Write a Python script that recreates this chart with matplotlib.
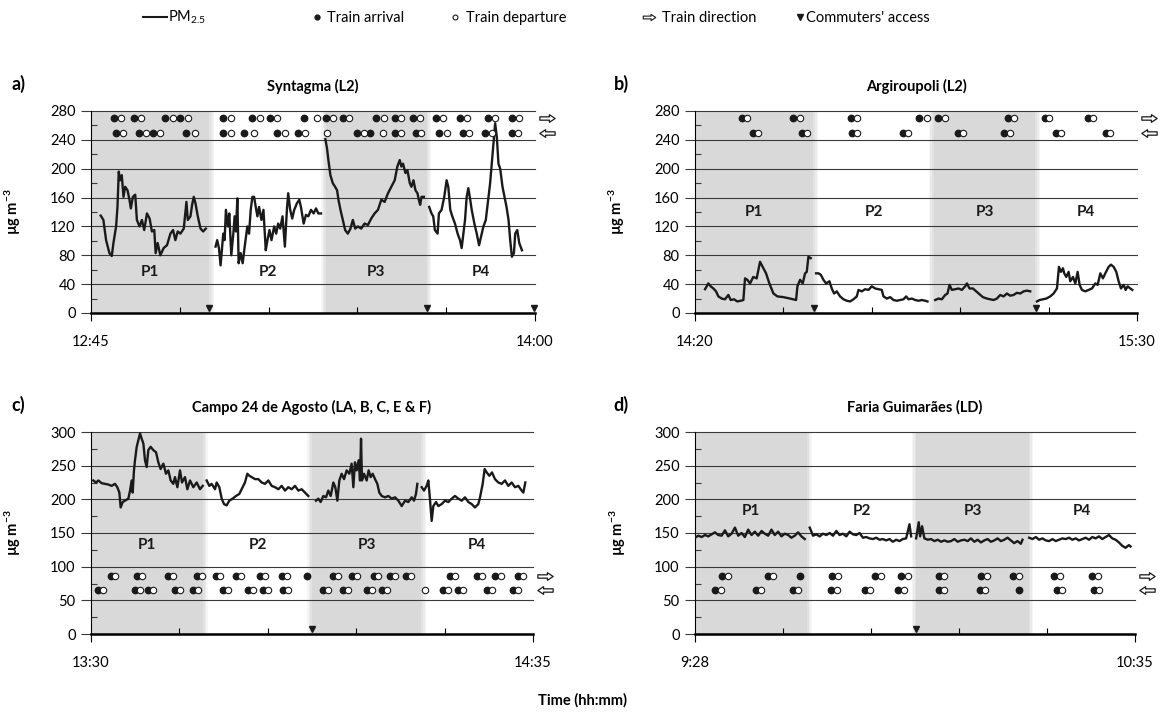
import numpy as np
import matplotlib
matplotlib.use("Agg")
import matplotlib.pyplot as plt
from matplotlib.lines import Line2D
from matplotlib.path import Path
from matplotlib.transforms import blended_transform_factory

plt.rcParams['font.family'] = ['Lato', 'DejaVu Sans']
plt.rcParams['mathtext.fontset'] = 'custom'
plt.rcParams['mathtext.rm'] = 'Lato'
plt.rcParams['mathtext.bf'] = 'Lato:bold'
plt.rcParams['mathtext.it'] = 'Lato:italic'
plt.rcParams['mathtext.sf'] = 'Lato'

NAN = np.nan

# ---------------- Panel a: Syntagma (L2) ----------------
a_t = [1.64, 2.09, 2.55, 3.11, 3.51, 3.79, 4.24, 4.47, 4.69, 4.92, 5.20, 5.49, 5.77, 6.17, 6.50,
       6.73, 7.07, 7.47, 7.75, 8.20, 8.60, 8.99, 9.45, 9.90, 10.29, 10.69, 10.92, 11.26, 11.71, 12.27,
       12.84, 13.41, 13.86, 14.25, 14.65, 15.10, 15.67, 16.12, 16.35, 16.80, 17.08, 17.36, 17.65, 18.04,
       18.50, 18.95, 19.40, NAN,
       21.04, 21.32, 21.61, 21.89, 22.34, 22.57, 22.79, 23.13, 23.36, 23.70, 24.04, 24.26, 24.49, 24.72,
       24.94, 25.28, 25.62, 25.96, 26.41, 26.70, 26.98, 27.26, 27.55, 27.83, 28.11, 28.39, 28.79, 29.13,
       29.52, 29.81, 30.15, 30.49, 30.94, 31.28, 31.62, 31.96, 32.35, 32.75, 33.09, 33.31, 33.65, 33.99,
       34.33, 34.78, 35.18, 35.46, 35.92, 36.31, 36.71, 37.16, 37.61, 38.01, 38.40, 38.86, NAN,
       39.59, 39.87, 40.10, 40.44, 40.84, 41.23, 41.57, 41.80, 42.14, 42.53, 42.93, 43.38, 43.83, 44.23,
       44.63, 45.08, 45.64, 46.21, 46.78, 47.34, 47.91, 48.47, 49.04, 49.60, 50.17, 50.73, 51.30, 51.75,
       52.15, 52.43, 52.71, 53.11, 53.45, 53.85, 54.13, 54.47, 54.81, 55.15, 55.37, 55.60, 55.83, 56.22, NAN,
       57.12, 57.52, 57.81, 58.09, 58.54, 58.77, 59.22, 59.67, 60.07, 60.35, 60.69, 61.03, 61.48, 61.93,
       62.33, 62.61, 62.90, 63.18, 63.46, 63.74, 64.02, 64.31, 64.76, 65.16, 65.55, 65.89, 66.29, 66.69,
       67.02, 67.42, 67.70, 67.98, 68.27, 68.55, 68.83, 69.12, 69.51, 69.85, 70.19, 70.53, 70.81, 71.10,
       71.44, 71.66, 72.00, 72.34, 72.79]
a_v = [135, 129, 101, 83, 79, 97, 120, 147, 196, 184, 191, 161, 175, 170, 157,
       145, 161, 164, 129, 120, 129, 115, 138, 131, 113, 115, 83, 97, 80, 90,
       94, 110, 115, 101, 113, 110, 117, 154, 129, 134, 150, 161, 152, 134,
       117, 113, 117, NAN,
       92, 101, 90, 66, 110, 101, 143, 120, 138, 80, 110, 134, 113, 159,
       69, 83, 69, 92, 120, 110, 143, 161, 161, 147, 134, 147, 129, 143,
       87, 101, 115, 101, 120, 110, 124, 117, 134, 92, 143, 166, 143, 131,
       143, 152, 157, 147, 124, 136, 134, 143, 138, 145, 138, 138, NAN,
       241, 228, 212, 191, 180, 175, 170, 157, 143, 129, 115, 110, 117, 129,
       117, 120, 117, 124, 122, 131, 138, 143, 157, 154, 166, 175, 184, 203,
       212, 203, 207, 194, 198, 180, 175, 184, 170, 166, 157, 150, 161, 161, NAN,
       147, 138, 134, 115, 110, 138, 143, 161, 184, 175, 143, 134, 124, 110,
       101, 90, 110, 129, 161, 173, 159, 143, 124, 110, 94, 106, 120, 129,
       152, 180, 207, 235, 263, 244, 207, 200, 175, 161, 147, 129, 101, 78,
       83, 110, 115, 97, 87]
a_arr_top = [3.85, 7.18, 12.56, 15.10, 22.34, 27.26, 30.20, 36.03, 39.71, 42.53, 48.19, 51.30, 54.41,
             58.26, 62.33, 67.02, 71.10]
a_dep_top = [5.03, 8.43, 13.80, 16.35, 23.59, 28.51, 31.39, 38.18, 40.95, 43.66, 49.43, 52.43, 55.54,
             59.50, 63.46, 68.27, 72.23]
a_arr_bot = [4.24, 8.03, 10.46, 16.12, 22.34, 25.85, 31.50, 34.90, 44.97, 47.06, 51.30, 54.86, 58.82,
             62.78, 66.57, 71.10]
a_dep_bot = [5.37, 9.28, 11.71, 17.65, 23.59, 27.55, 32.75, 36.14, 39.87, 46.10, 49.32, 52.43, 55.82,
             60.07, 63.91, 67.82, 72.11]
a_periods = [0, 20, 39.7, 56.7, 75]
a_access = [19.9, 56.8, 74.9]

# ---------------- Panel b: Argiroupoli (L2) ----------------
b_t = [1.59, 2.11, 2.48, 2.91, 3.33, 3.70, 4.23, 4.75, 5.28, 5.65, 6.18, 6.71, 7.24, 7.66, 7.92, 8.29,
       8.72, 9.23, 9.77, 10.30, 10.72, 11.25, 11.78, 12.42, 13.05, 14.00, 15.06, 16.01, 16.22, 16.64,
       17.06, 17.43, 17.70, 17.96, 18.33, NAN,
       19.18, 19.55, 19.92, 20.34, 20.76, 21.29, 21.66, 22.03, 22.45, 22.98, 23.51, 24.04, 24.57, 25.09,
       25.62, 25.89, 26.41, 26.94, 27.47, 28.00, 28.53, 29.06, 29.58, 29.85, 30.38, 30.91, 31.43, 31.96,
       32.49, 33.02, 33.44, 33.81, 34.34, 34.87, 35.40, 35.92, 36.45, 36.82, NAN,
       38.04, 38.57, 39.09, 39.62, 39.99, 40.31, 40.68, 41.21, 41.74, 42.26, 42.79, 43.06, 43.48, 44.01,
       44.54, 45.06, 45.59, 46.23, 46.76, 47.28, 47.81, 48.34, 48.87, 49.40, 49.92, 50.45, 50.98, 51.51,
       52.04, 52.57, 53.09, NAN,
       54.15, 54.57, 55.10, 55.63, 56.26, 56.79, 57.32, 57.64, 57.95, 58.27, 58.48, 58.80, 59.17, 59.43,
       59.86, 60.23, 60.60, 60.91, 61.28, 61.81, 62.34, 62.87, 63.40, 63.77, 64.19, 64.61, 64.98, 65.51,
       65.88, 66.30, 66.72, 67.09, 67.46, 67.89, 68.20, 68.52, 68.94, 69.26]
b_v = [33, 41, 37, 34, 30, 23, 20, 19, 25, 18, 19, 16, 17, 18, 48, 46,
       41, 50, 48, 71, 64, 55, 41, 27, 23, 22, 20, 18, 37, 46,
       41, 55, 57, 78, 76, NAN,
       55, 55, 53, 46, 41, 44, 34, 27, 30, 23, 19, 17, 16, 19,
       23, 32, 30, 33, 32, 37, 34, 33, 32, 23, 20, 22, 18, 17,
       18, 19, 23, 19, 20, 18, 17, 18, 17, 16, NAN,
       18, 20, 19, 25, 27, 39, 32, 33, 34, 32, 37, 41, 34, 34,
       30, 26, 22, 20, 19, 18, 20, 25, 23, 27, 24, 25, 28, 27,
       30, 31, 30, NAN,
       16, 18, 19, 20, 23, 27, 34, 64, 57, 62, 55, 50, 57, 44,
       50, 41, 57, 39, 32, 30, 32, 34, 41, 39, 55, 48, 55, 64,
       67, 64, 57, 44, 34, 39, 32, 37, 34, 32]
b_arr_top = [7.40, 15.58, 24.72, 35.55, 38.56, 49.50, 55.36, 62.18]
b_dep_top = [8.29, 16.64, 25.62, 36.71, 39.62, 50.45, 56.00, 63.02]
b_arr_bot = [9.24, 16.90, 24.83, 32.91, 41.73, 48.97, 57.21, 65.14]
b_dep_bot = [10.04, 17.70, 25.62, 33.81, 42.52, 49.81, 58.00, 65.77]
b_periods = [0, 18.75, 37.8, 53.9, 70]
b_access = [18.9, 54.0]

# ---------------- Panel c: Campo 24 de Agosto ----------------
c_t = [0.34, 0.74, 1.08, 1.57, 2.06, 2.55, 3.04, 3.53, 3.87, 4.17, 4.36, 4.66, 5.00, 5.49, 5.74, 5.98,
       6.13, 6.32, 6.47, 6.72, 6.96, 7.21, 7.45, 7.70, 7.94, 8.19, 8.43, 8.77, 9.17, 9.56, 9.90, 10.24,
       10.64, 11.03, 11.37, 11.72, 12.11, 12.35, 12.70, 13.09, 13.38, 13.82, 14.17, 14.56, 15.05, 15.54,
       16.03, 16.42, NAN,
       17.01, 17.40, 17.74, 18.24, 18.48, 18.87, 19.22, 19.56, 19.95, 20.34, 20.83, 21.32, 21.81, 22.30,
       22.64, 22.99, 23.28, 23.63, 24.12, 24.61, 25.10, 25.59, 26.08, 26.57, 27.06, 27.55, 28.04, 28.53,
       29.02, 29.51, 30.00, 30.49, 30.98, 31.47, 31.96, NAN,
       33.09, 33.43, 33.77, 34.17, 34.56, 34.90, 35.25, 35.64, 35.93, 36.23, 36.52, 36.86, 37.21, 37.60,
       37.99, 38.33, 38.58, 38.82, 39.07, 39.36, 39.56, 39.71, 39.85, 40.15, 40.54, 40.83, 41.13, 41.42,
       41.77, 42.11, 42.40, 42.75, 43.24, 43.73, 44.22, 44.71, 45.20, 45.69, 46.18, 46.67, 47.16, 47.50,
       47.79, 47.99, NAN,
       48.63, 48.97, 49.36, 49.61, 49.85, 50.10, 50.34, 50.74, 51.08, 51.57, 52.06, 52.55, 53.04, 53.53,
       54.02, 54.51, 55.00, 55.49, 55.98, 56.47, 56.96, 57.21, 57.60, 57.89, 58.19, 58.58, 58.97, 59.41,
       59.90, 60.39, 60.88, 61.37, 61.86, 62.35, 62.84, 63.33, 63.58, 63.87]
c_v = [228, 225, 228, 224, 223, 222, 220, 223, 218, 210, 188, 196, 198, 201, 213, 228,
       210, 243, 258, 278, 288, 298, 290, 283, 258, 248, 273, 278, 273, 270, 255, 245,
       253, 238, 243, 228, 223, 233, 218, 243, 225, 233, 215, 228, 218, 225,
       215, 220, NAN,
       228, 220, 223, 215, 225, 218, 201, 193, 191, 198, 201, 205, 208, 218,
       225, 238, 235, 233, 230, 230, 225, 223, 228, 220, 218, 215, 220, 213,
       218, 215, 220, 213, 215, 210, 205, NAN,
       198, 201, 196, 205, 203, 213, 205, 225, 218, 198, 228, 238, 230, 243,
       238, 253, 218, 255, 243, 258, 228, 290, 228, 238, 228, 243, 233, 238,
       230, 223, 210, 205, 203, 205, 201, 203, 198, 190, 198, 196, 203, 198,
       208, 223, NAN,
       218, 213, 220, 228, 200, 168, 190, 196, 190, 193, 198, 196, 201, 205,
       201, 198, 203, 196, 193, 188, 193, 203, 223, 245, 240, 235, 240, 230,
       225, 223, 228, 220, 225, 218, 220, 213, 210, 225]
c_arr_top = [2.89, 6.72, 11.37, 15.64, 18.38, 21.32, 24.85, 28.04, 31.72, 35.64, 38.33, 41.62, 43.97,
             46.32, 52.79, 56.72, 59.41, 62.84]
c_dep_top = [3.53, 7.45, 12.11, 16.27, 18.97, 22.01, 25.59, 28.78, 36.37, 39.07, 42.26, 44.71, 47.01,
             53.53, 57.45, 60.25, 63.58]
c_arr_bot = [1.08, 6.47, 8.43, 12.35, 15.05, 19.46, 23.04, 25.34, 28.19, 34.07, 37.01, 40.54, 42.75,
             51.72, 54.02, 58.19, 62.11]
c_dep_bot = [1.72, 7.21, 9.17, 13.09, 15.78, 20.20, 23.77, 26.08, 28.92, 34.80, 37.75, 41.27, 43.48,
             49.12, 52.45, 54.76, 58.92, 62.84]
c_periods = [0, 16.5, 32.5, 48.6, 65]
c_access = [32.5]

# ---------------- Panel d: Faria Guimaraes (LD) ----------------
d_t = [0.00, 0.51, 1.01, 1.52, 2.02, 2.53, 3.04, 3.54, 4.05, 4.56, 5.06, 5.57, 6.08, 6.58, 7.09, 7.59,
       8.10, 8.61, 9.11, 9.62, 10.13, 10.63, 11.14, 11.64, 12.15, 12.66, 13.16, 13.67, 14.18, 14.68,
       15.19, 15.70, 16.20, 16.71, NAN,
       17.47, 17.97, 18.48, 18.99, 19.49, 20.00, 20.51, 21.01, 21.52, 22.02, 22.53, 23.04, 23.54, 24.05,
       24.56, 25.06, 25.57, 26.07, 26.58, 27.09, 27.59, 28.10, 28.61, 29.11, 29.62, 30.12, 30.63, 31.14,
       31.64, 32.15, 32.66, 32.91, NAN,
       33.67, 34.07, 34.28, 34.58, 34.93, 35.44, 35.95, 36.45, 36.96, 37.47, 37.97, 38.48, 38.99, 39.49,
       40.00, 40.50, 41.01, 41.52, 42.02, 42.53, 43.04, 43.54, 44.05, 44.55, 45.06, 45.57, 46.07, 46.58,
       47.09, 47.59, 48.10, 48.60, 49.11, 49.62, 49.87, NAN,
       50.88, 51.39, 51.90, 52.40, 52.91, 53.41, 53.92, 54.43, 54.93, 55.44, 55.95, 56.45, 56.96, 57.46,
       57.97, 58.48, 58.98, 59.49, 60.00, 60.50, 61.01, 61.51, 62.02, 62.53, 63.03, 63.54, 64.05, 64.55,
       65.06, 65.56, 66.07, 66.32]
d_v = [143, 146, 144, 147, 145, 148, 151, 147, 146, 154, 145, 149, 158, 146, 150, 144,
       155, 147, 152, 146, 153, 149, 146, 155, 147, 152, 145, 149, 147, 143,
       146, 151, 145, 141, NAN,
       158, 146, 148, 145, 149, 147, 150, 146, 153, 147, 149, 145, 152, 148,
       147, 150, 143, 144, 142, 141, 143, 140, 141, 139, 141, 137, 140, 138,
       141, 142, 163, 145, NAN,
       142, 166, 145, 160, 142, 140, 141, 138, 140, 137, 139, 137, 138, 141,
       137, 139, 140, 138, 142, 137, 140, 136, 139, 141, 137, 139, 142, 138,
       140, 143, 139, 135, 138, 134, 140, NAN,
       143, 141, 144, 140, 142, 139, 138, 141, 138, 140, 142, 141, 143, 140,
       142, 139, 141, 143, 140, 144, 142, 145, 141, 144, 147, 142, 140, 136,
       131, 128, 132, 130]
d_arr_top = [4.15, 11.14, 16.05, 20.91, 27.44, 31.39, 37.11, 43.55, 48.46, 54.68, 60.51]
d_dep_top = [5.06, 11.90, 21.77, 28.36, 32.41, 37.98, 44.46, 49.37, 55.55, 61.42]
d_arr_bot = [3.04, 9.27, 14.94, 20.76, 25.82, 30.89, 37.11, 43.39, 49.27, 55.19, 60.76]
d_dep_bot = [3.90, 10.03, 15.70, 21.62, 26.58, 31.75, 37.98, 44.20, 55.95, 61.52]
d_periods = [0, 17.1, 33.7, 50.8, 67]
d_access = [33.7]

titles = ["Syntagma (L2)", "Argiroupoli (L2)", "Campo 24 de Agosto (LA, B, C, E & F)",
          "Faria Guimarães (LD)"]
letters = ["a)", "b)", "c)", "d)"]
time_labels = [("12:45", "14:00"), ("14:20", "15:30"), ("13:30", "14:35"), ("9:28", "10:35")]
period_names = ["P1", "P2", "P3", "P4"]

W, H = 1164, 712
GRAY = '#d9d9d9'
INK = '#1a1a1a'

# hollow block-arrow marker shapes (right / left)
_rv = [(-1.0, -0.22), (0.25, -0.22), (0.25, -0.5), (1.0, 0.0), (0.25, 0.5), (0.25, 0.22),
       (-1.0, 0.22), (-1.0, -0.22)]
RIGHT_ARROW = Path(_rv, [Path.MOVETO] + [Path.LINETO] * 6 + [Path.CLOSEPOLY])
LEFT_ARROW = Path([(-x, y) for x, y in _rv], [Path.MOVETO] + [Path.LINETO] * 6 + [Path.CLOSEPOLY])


def pos(l, t, r, b):
    return [l / W, 1 - b / H, (r - l) / W, (b - t) / H]


fig = plt.figure(figsize=(W / 100, H / 100), dpi=100)

panels = [
    dict(rect=pos(91, 111, 535, 313), t=a_t, v=a_v, at=a_arr_top, dt=a_dep_top, ab=a_arr_bot, db=a_dep_bot,
         per=a_periods, acc=a_access, ymax=280, step=40, rows=(270, 250), py=57, letter_xy=(18, 84)),
    dict(rect=pos(695, 111, 1137, 313), t=b_t, v=b_v, at=b_arr_top, dt=b_dep_top, ab=b_arr_bot, db=b_dep_bot,
         per=b_periods, acc=b_access, ymax=280, step=40, rows=(270, 250), py=140, letter_xy=(621, 84)),
    dict(rect=pos(91, 432, 533, 634), t=c_t, v=c_v, at=c_arr_top, dt=c_dep_top, ab=c_arr_bot, db=c_dep_bot,
         per=c_periods, acc=c_access, ymax=300, step=50, rows=(86, 65), py=132, letter_xy=(18, 405)),
    dict(rect=pos(695, 432, 1135, 634), t=d_t, v=d_v, at=d_arr_top, dt=d_dep_top, ab=d_arr_bot, db=d_dep_bot,
         per=d_periods, acc=d_access, ymax=300, step=50, rows=(86, 65), py=183, letter_xy=(621, 405)),
]

for i, p in enumerate(panels):
    ax = fig.add_axes(p['rect'])
    total = p['per'][-1]
    ymax = p['ymax']
    ax.set_xlim(0, total)
    ax.set_ylim(0, ymax)

    # shaded periods P1, P3 with soft edges
    w = total / 442 * 1.6
    for (x0, x1) in [(p['per'][0], p['per'][1]), (p['per'][2], p['per'][3])]:
        ax.axvspan(x0, x1, color=GRAY, lw=0, zorder=0)
        for k in range(1, 4):
            al = 1 - k / 4
            if x0 > 0:
                ax.axvspan(x0 - k * w, x0 - (k - 1) * w, color=GRAY, alpha=al, lw=0, zorder=0)
            ax.axvspan(x1 + (k - 1) * w, x1 + k * w, color=GRAY, alpha=al, lw=0, zorder=0)

    # grid and ticks
    ax.set_yticks(np.arange(0, ymax + 1, p['step']))
    ax.set_yticks(np.arange(p['step'] / 2, ymax, p['step']), minor=True)
    ax.yaxis.grid(True, which='major', color='#3a3a3a', lw=0.8)
    ax.set_axisbelow(True)
    for gl in ax.get_ygridlines():
        gl.set_clip_on(False)
    ax.tick_params(axis='y', which='major', direction='out', length=7, width=0.8,
                   color='#3a3a3a', pad=4, labelsize=10.5)
    ax.tick_params(axis='y', which='minor', direction='in', length=4, width=0.8, color='#3a3a3a')
    ax.set_xticks([0, total])
    ax.set_xticklabels(list(time_labels[i]))
    ax.set_xticks(np.linspace(0, total, 6)[1:-1], minor=True)
    ax.tick_params(axis='x', which='major', direction='out', length=6, width=0.8, pad=10, labelsize=10.5)
    ax.tick_params(axis='x', which='minor', direction='in', length=4, width=0.8)
    for s in ['top', 'right']:
        ax.spines[s].set_visible(False)
    ax.spines['left'].set_linewidth(0.8)
    ax.spines['bottom'].set_linewidth(1.8)

    # PM2.5 trace
    ax.plot(p['t'], p['v'], color=INK, lw=1.7, zorder=3, solid_joinstyle='round')

    # trains
    rt, rb = p['rows']
    ax.plot(p['at'], [rt] * len(p['at']), 'o', ms=4.6, mfc=INK, mec=INK, zorder=4, clip_on=False)
    ax.plot(p['dt'], [rt] * len(p['dt']), 'o', ms=4.6, mfc='white', mec=INK, mew=0.8, zorder=4,
            clip_on=False)
    ax.plot(p['ab'], [rb] * len(p['ab']), 'o', ms=4.6, mfc=INK, mec=INK, zorder=4, clip_on=False)
    ax.plot(p['db'], [rb] * len(p['db']), 'o', ms=4.6, mfc='white', mec=INK, mew=0.8, zorder=4,
            clip_on=False)
    tr = blended_transform_factory(ax.transAxes, ax.transData)
    ax.plot([1.028], [rt], marker=RIGHT_ARROW, ms=11, mfc='white', mec=INK, mew=0.9, lw=0,
            transform=tr, clip_on=False)
    ax.plot([1.028], [rb], marker=LEFT_ARROW, ms=11, mfc='white', mec=INK, mew=0.9, lw=0,
            transform=tr, clip_on=False)

    # commuters' access
    ax.plot(p['acc'], [ymax * 0.025] * len(p['acc']), 'v', color=INK, ms=5, zorder=5, clip_on=False)

    # period labels
    for j in range(4):
        cx = (p['per'][j] + p['per'][j + 1]) / 2
        ax.text(cx, p['py'], period_names[j], ha='center', va='center', fontsize=11,
                fontweight='bold', color=INK)

    # title, y label
    ax.text(0.5, 1 + 25 / 202, titles[i], transform=ax.transAxes, ha='center', va='center',
            fontsize=10.5, fontweight='bold')
    ax.set_ylabel(r'µg m$^{\mathbf{-3}}$', fontsize=10.5, fontweight='bold')
    ax.yaxis.set_label_coords(-0.153, 0.5)

    lx, ly = p['letter_xy']
    fig.text(lx / W, 1 - ly / H, letters[i], ha='center', va='center', fontsize=13, fontweight='bold')

# legend
yb = 1 - 22 / H
yc = 1 - 17 / H
fig.add_artist(Line2D([143 / W, 167 / W], [yc, yc], color=INK, lw=1.5))
fig.text(168 / W, yb, 'PM$_{2.5}$', ha='left', va='baseline', fontsize=10.5)
fig.add_artist(Line2D([317 / W], [yc], marker='o', ms=3.5, color=INK, lw=0))
fig.text(327 / W, yb, 'Train arrival', ha='left', va='baseline', fontsize=10.5)
fig.add_artist(Line2D([455 / W], [yc], marker='o', ms=3.5, mfc='white', mec=INK, mew=0.8, lw=0))
fig.text(466 / W, yb, 'Train departure', ha='left', va='baseline', fontsize=10.5)
fig.add_artist(Line2D([649 / W], [yc], marker=RIGHT_ARROW, ms=9, mfc='white', mec=INK, mew=0.8, lw=0))
fig.text(662 / W, yb, 'Train direction', ha='left', va='baseline', fontsize=10.5)
fig.add_artist(Line2D([800 / W], [yc], marker='v', ms=4, color=INK, lw=0))
fig.text(806 / W, yb, "Commuters' access", ha='left', va='baseline', fontsize=10.5)

fig.text(582 / W, 1 - 700 / H, 'Time (hh:mm)', ha='center', va='center', fontsize=10.5, fontweight='bold')

fig.savefig('out.png', dpi=100)
